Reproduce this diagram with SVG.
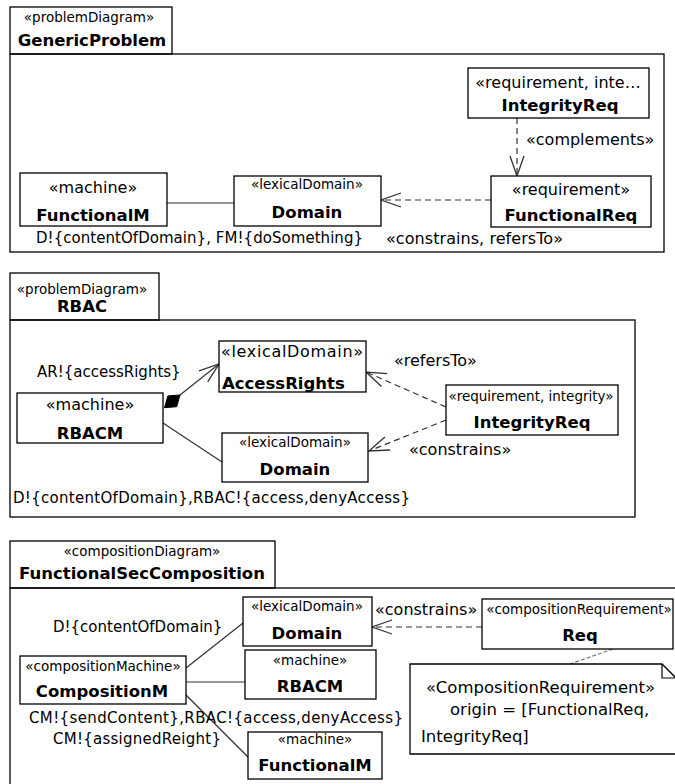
<svg xmlns="http://www.w3.org/2000/svg" width="675" height="784" viewBox="0 0 675 784">
  <style>
    .box { fill: #fff; stroke: #000; stroke-width: 1.3; }
    .frame { fill: none; stroke: #000; stroke-width: 1.3; }
    .t { font-family: "DejaVu Sans", "Liberation Sans", sans-serif; font-size: 15px; fill: #000; }
    .st { font-family: "DejaVu Sans", "Liberation Sans", sans-serif; font-size: 16px; fill: #000; }
    .s { font-family: "DejaVu Sans", "Liberation Sans", sans-serif; font-size: 13.5px; fill: #000; }
    .nt { font-family: "DejaVu Sans", "Liberation Sans", sans-serif; font-size: 16.5px; fill: #000; }
    .n { font-family: "DejaVu Sans", "Liberation Sans", sans-serif; font-size: 16.5px; font-weight: bold; fill: #000; }
    .m { text-anchor: middle; }
    .ln { fill: none; stroke: #333; stroke-width: 1.2; }
    .dash { stroke-dasharray: 6 4; }
  </style>
  <defs>
    <marker id="open" markerUnits="userSpaceOnUse" markerWidth="24" markerHeight="18" viewBox="-22 -9 24 18" refX="0" refY="0" orient="auto">
      <path d="M-20,-7 L0,0 L-20,7" fill="none" stroke="#333" stroke-width="1.3"/>
    </marker>
  </defs>

  <!-- ===== GenericProblem ===== -->
  <g id="frame-genericproblem">
    <rect class="frame" x="10" y="54" width="654" height="198"/>
    <rect class="frame" x="10" y="7" width="162" height="47"/>
    <text class="s m" x="89" y="22">«problemDiagram»</text>
    <text class="n m" x="92" y="46">GenericProblem</text>
  </g>

  <g id="connectors-genericproblem">
    <line class="ln" x1="167" y1="203" x2="234" y2="203"/>
    <line class="ln dash" x1="517" y1="118" x2="517" y2="176" marker-end="url(#open)"/>
    <line class="ln dash" x1="491" y1="200" x2="381" y2="200" marker-end="url(#open)"/>
    <text class="st" x="526" y="145">«complements»</text>
    <text class="t" x="36" y="243" textLength="327">D!{contentOfDomain}, FM!{doSomething}</text>
    <text class="st" x="386" y="244" textLength="177">«constrains, refersTo»</text>
  </g>

  <g id="gp-functionalm">
    <rect class="box" x="20" y="173" width="147" height="53"/>
    <text class="st m" x="93" y="193">«machine»</text>
    <text class="n m" x="93" y="221">FunctionalM</text>
  </g>
  <g id="gp-domain">
    <rect class="box" x="234" y="176" width="147" height="50"/>
    <text class="s m" x="307" y="189">«lexicalDomain»</text>
    <text class="n m" x="307" y="218">Domain</text>
  </g>
  <g id="gp-integrityreq">
    <rect class="box" x="468" y="68" width="181" height="50"/>
    <text class="st m" x="558" y="88">«requirement, inte…</text>
    <text class="n m" x="560" y="111">IntegrityReq</text>
  </g>
  <g id="gp-functionalreq">
    <rect class="box" x="491" y="176" width="160" height="51"/>
    <text class="st m" x="571" y="195">«requirement»</text>
    <text class="n m" x="571" y="221">FunctionalReq</text>
  </g>

  <!-- ===== RBAC ===== -->
  <g id="frame-rbac">
    <rect class="frame" x="10" y="320" width="625" height="197"/>
    <rect class="frame" x="10" y="273" width="149" height="47"/>
    <text class="s m" x="82" y="294">«problemDiagram»</text>
    <text class="n m" x="82" y="312">RBAC</text>
  </g>

  <g id="connectors-rbac">
    <line class="ln" x1="180" y1="395" x2="219" y2="364" marker-end="url(#open)"/>
    <polygon points="164.5,407.7 167.9,395.9 180,395 176.7,406.7" fill="#000" stroke="#000" stroke-width="1"/>
    <line class="ln" x1="163" y1="423" x2="222" y2="462"/>
    <line class="ln dash" x1="446" y1="407" x2="366" y2="372" marker-end="url(#open)"/>
    <line class="ln dash" x1="446" y1="420" x2="369" y2="451" marker-end="url(#open)"/>
    <text class="t" x="37" y="377">AR!{accessRights}</text>
    <text class="st" x="394" y="366">«refersTo»</text>
    <text class="st" x="409" y="455">«constrains»</text>
    <text class="t" x="13" y="503" textLength="397">D!{contentOfDomain},RBAC!{access,denyAccess}</text>
  </g>

  <g id="rbac-accessrights">
    <rect class="box" x="219" y="341" width="147" height="51"/>
    <text class="st" x="221" y="357" textLength="142">«lexicalDomain»</text>
    <text class="n" x="222" y="389">AccessRights</text>
  </g>
  <g id="rbac-rbacm">
    <rect class="box" x="17" y="393" width="146" height="50"/>
    <text class="st m" x="90" y="410">«machine»</text>
    <text class="n m" x="90" y="439">RBACM</text>
  </g>
  <g id="rbac-domain">
    <rect class="box" x="222" y="433" width="146" height="49"/>
    <text class="s m" x="295" y="447">«lexicalDomain»</text>
    <text class="n m" x="295" y="475">Domain</text>
  </g>
  <g id="rbac-integrityreq">
    <rect class="box" x="446" y="385" width="172" height="50"/>
    <text class="s m" x="531" y="401">«requirement, integrity»</text>
    <text class="n m" x="532" y="428">IntegrityReq</text>
  </g>

  <!-- ===== FunctionalSecComposition ===== -->
  <g id="frame-composition">
    <rect class="frame" x="10" y="588" width="670" height="210"/>
    <rect class="frame" x="10" y="541" width="265" height="47"/>
    <text class="s m" x="142" y="556">«compositionDiagram»</text>
    <text class="n m" x="142" y="579">FunctionalSecComposition</text>
  </g>

  <g id="connectors-composition">
    <line class="ln" x1="186" y1="668" x2="243" y2="623"/>
    <line class="ln" x1="186" y1="682" x2="245" y2="682"/>
    <line class="ln" x1="186" y1="695" x2="248" y2="757"/>
    <line class="ln dash" x1="482" y1="627" x2="372" y2="627" marker-end="url(#open)"/>
    <line x1="613" y1="649" x2="570" y2="664" stroke="#777" stroke-width="1.2" stroke-dasharray="4 2"/>
    <text class="t" x="53" y="632">D!{contentOfDomain}</text>
    <text class="t" x="29" y="723" textLength="374">CM!{sendContent},RBAC!{access,denyAccess}</text>
    <text class="t" x="53" y="744" textLength="168">CM!{assignedReight}</text>
    <text class="st" x="375" y="615">«constrains»</text>
  </g>

  <g id="comp-domain">
    <rect class="box" x="243" y="597" width="129" height="49"/>
    <text class="s m" x="307" y="611">«lexicalDomain»</text>
    <text class="n m" x="307" y="639">Domain</text>
  </g>
  <g id="comp-rbacm">
    <rect class="box" x="245" y="650" width="131" height="49"/>
    <text class="s m" x="310" y="665">«machine»</text>
    <text class="n m" x="310" y="692">RBACM</text>
  </g>
  <g id="comp-functionalm">
    <rect class="box" x="248" y="732" width="134" height="47"/>
    <text class="s m" x="315" y="744">«machine»</text>
    <text class="n m" x="315" y="771">FunctionalM</text>
  </g>
  <g id="comp-compositionm">
    <rect class="box" x="20" y="656" width="166" height="48"/>
    <text class="s m" x="103" y="671">«compositionMachine»</text>
    <text class="n m" x="102" y="697">CompositionM</text>
  </g>
  <g id="comp-req">
    <rect class="box" x="482" y="599" width="191" height="50"/>
    <text class="s m" x="579" y="614">«compositionRequirement»</text>
    <text class="n m" x="580" y="641">Req</text>
  </g>
  <g id="comp-note">
    <path class="box" d="M410,664 H662 L676,678 V754 H410 Z"/>
    <path d="M662,664 V678 H676" fill="none" stroke="#000" stroke-width="1.2"/>
    <text class="nt" x="426" y="693">«CompositionRequirement»</text>
    <text class="nt" x="450" y="715">origin = [FunctionalReq,</text>
    <text class="nt" x="421" y="742">IntegrityReq]</text>
  </g>
</svg>
